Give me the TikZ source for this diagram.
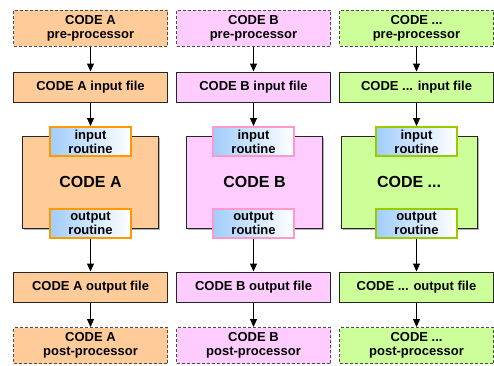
\documentclass[tikz,border=0pt]{standalone}
\usepackage{fontspec}
\setmainfont{Liberation Sans}
\usetikzlibrary{arrows.meta,shadows}

\definecolor{peach}{RGB}{255,204,153}
\definecolor{pinky}{RGB}{255,204,255}
\definecolor{lime}{RGB}{204,255,153}
\definecolor{orangeline}{RGB}{255,153,0}
\definecolor{pinkline}{RGB}{255,153,204}
\definecolor{greenline}{RGB}{153,204,0}
\definecolor{rtblue}{RGB}{160,205,250}
\newcommand{\codedots}{...}

\begin{document}
\begin{tikzpicture}[x=1pt, y=-1pt,
	every node/.style = {font=\bfseries\fontsize{13}{14}\selectfont,
		align=center, inner sep=0pt},
	filebox/.style = {shape=rectangle, draw=black!85, line width=1pt,
		minimum width=154pt, minimum height=30pt},
	toolbox/.style = {filebox, draw=black!70, dash pattern=on 3pt off 2pt,
		minimum height=36pt},
	codebox/.style = {filebox, minimum width=136pt, minimum height=92pt,
		font=\bfseries\fontsize{16}{18}\selectfont,
		drop shadow={shadow xshift=1.5pt, shadow yshift=-1.5pt,
			fill=black, opacity=.3}},
	routine/.style = {shape=rectangle, draw=#1, line width=2pt,
		left color=rtblue, middle color=blue!4!white, right color=white,
		minimum width=81pt, minimum height=29pt},
	flow/.style = {-{Triangle[length=8pt,width=7pt]}, line width=1pt}]
	\useasboundingbox (0,0) rectangle (494,365);

	\foreach \id/\x/\dx/\code/\fillc/\linec in
		{a/90.5/0/A/peach/orangeline,
		 b/253.5/1/B/pinky/pinkline,
		 c/416.5/-7.5/\codedots/lime/greenline}
	{
		\node[toolbox, fill=\fillc] (pre\id) at (\x,28) {CODE \code\\pre-processor};
		\node[filebox, fill=\fillc] (in\id) at (\x,87) {CODE \code{} input file};
		\node[codebox, fill=\fillc] (main\id) at ({\x+\dx},182) {CODE \code};
		\node[routine=\linec] (read\id) at (\x,141.5) {input\\routine};
		\node[routine=\linec] (write\id) at (\x,223) {output\\routine};
		\node[filebox, fill=\fillc] (out\id) at (\x,287) {CODE \code{} output file};
		\node[toolbox, fill=\fillc] (post\id) at (\x,345.5) {CODE \code\\post-processor};

		\draw[flow] (pre\id) -- (in\id);
		\draw[flow] (in\id) -- (read\id);
		\draw[flow] (write\id) -- (out\id);
		\draw[flow] (out\id) -- (post\id);
	}
\end{tikzpicture}
\end{document}
